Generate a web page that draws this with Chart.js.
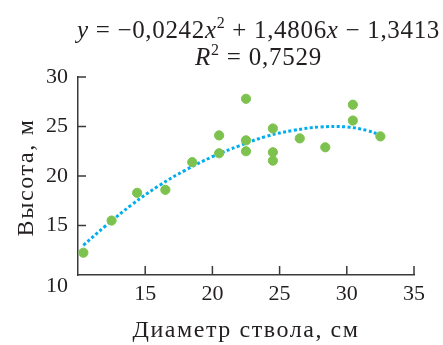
<!DOCTYPE html>
<html>
<head>
<meta charset="utf-8">
<script src="https://cdn.jsdelivr.net/npm/chart.js@4.4.1/dist/chart.umd.min.js"></script>
<style>
    html, body { margin: 0; padding: 0; background: #fff; }
</style>
</head>
<body>
<canvas id="chart" width="443" height="345"></canvas>
<script>
// measured trunk diameter (cm) and tree height (m)
const diameters = [10.4, 12.5, 14.4, 16.5, 18.5, 20.5, 20.5, 22.5, 22.5, 22.5, 24.5, 24.5, 24.5, 26.5, 28.4, 30.45, 30.45, 32.5];
const heights = [12.25, 15.5, 18.3, 18.6, 21.4, 24.1, 22.3, 27.8, 23.6, 22.5, 24.8, 22.4, 21.55, 23.8, 22.9, 27.2, 25.6, 24.0];

// dotted trend curve
const trendX = [10.4, 12, 14, 16, 18, 20, 22, 24, 26, 28, 30, 31.5, 32.4];
const trendY = [13.0, 14.9, 17.1, 19.0, 20.6, 21.95, 23.05, 24.0, 24.6, 24.95, 24.95, 24.6, 24.2];

const xTicks = [10, 15, 20, 25, 30, 35];
const yTicks = [10, 15, 20, 25, 30];

const xTitle = 'Диаметр ствола, см';
const yTitle = 'Высота, м';

const equationLine = [
    { t: 'y', i: true },
    { t: ' = −0,0242' },
    { t: 'x', i: true },
    { t: '2', sup: true },
    { t: ' + 1,4806' },
    { t: 'x', i: true },
    { t: ' − 1,3413' },
];
const r2Line = [
    { t: 'R', i: true },
    { t: '2', sup: true },
    { t: ' = 0,7529' },
];

const textColor = '#231f20';
const axisColor = '#3a3a3a';
const serif = '"Liberation Serif", "Times New Roman", serif';

function segFont(seg, size) {
    const s = seg.sup ? Math.round(size * 0.65) : size;
    return `${seg.i ? 'italic ' : ''}${s}px ${serif}`;
}

// draws mixed italic/superscript text, eased out by letter spacing to a given width
function drawRich(ctx, segs, cx, y, size, width) {
    let natural = 0;
    let chars = 0;
    ctx.letterSpacing = '0px';
    segs.forEach((seg) => {
        ctx.font = segFont(seg, size);
        seg.w = ctx.measureText(seg.t).width;
        natural += seg.w;
        chars += seg.t.length;
    });
    const ls = Math.max(0, (width - natural) / chars);
    let x = cx - (natural + ls * chars) / 2;
    segs.forEach((seg) => {
        ctx.font = segFont(seg, size);
        ctx.letterSpacing = `${ls}px`;
        ctx.fillText(seg.t, x, seg.sup ? y - size * 0.4 : y);
        x += seg.w + ls * seg.t.length;
    });
    ctx.letterSpacing = '0px';
}

const extras = {
    id: 'extras',
    afterDraw(chart) {
        const { ctx, scales } = chart;
        const xs = scales.x;
        const ys = scales.y;
        ctx.save();

        // inward tick marks
        ctx.strokeStyle = axisColor;
        ctx.lineWidth = 1.5;
        ctx.beginPath();
        yTicks.filter((v) => v !== 10).forEach((v) => {
            const py = ys.getPixelForValue(v);
            ctx.moveTo(xs.left, py);
            ctx.lineTo(xs.left + 8, py);
        });
        xTicks.filter((v) => v !== 10).forEach((v) => {
            const px = xs.getPixelForValue(v);
            ctx.moveTo(px, ys.bottom);
            ctx.lineTo(px, ys.bottom - 9);
        });
        ctx.stroke();

        // the "10" of the y axis sits a little below the corner
        ctx.fillStyle = textColor;
        ctx.font = `22px ${serif}`;
        ctx.textAlign = 'right';
        ctx.textBaseline = 'middle';
        ctx.fillText('10', ys.right - 10, ys.getPixelForValue(10) + 11);

        ctx.textAlign = 'left';
        ctx.textBaseline = 'alphabetic';

        // regression equation
        drawRich(ctx, equationLine, 258.5, 38, 25, 363);
        drawRich(ctx, r2Line, 258.5, 65, 25, 127);

        // axis titles
        drawRich(ctx, [{ t: xTitle }], (xs.left + xs.right) / 2, 337, 24, 227);
        ctx.translate(33, 177.5);
        ctx.rotate(-Math.PI / 2);
        drawRich(ctx, [{ t: yTitle }], 0, 0, 24, 118);
        ctx.restore();
    },
};

new Chart(document.getElementById('chart'), {
    type: 'scatter',
    data: {
        datasets: [
            {
                label: 'Высота',
                data: diameters.map((d, i) => ({ x: d, y: heights[i] })),
                backgroundColor: '#7dc24e',
                borderColor: '#7dc24e',
                pointRadius: 4.6,
                pointHoverRadius: 4.6,
                clip: false,
                order: 1,
            },
            {
                label: 'Тренд',
                type: 'line',
                data: trendX.map((d, i) => ({ x: d, y: trendY[i] })),
                borderColor: '#00aeef',
                borderWidth: 3,
                borderDash: [3, 2.4],
                pointRadius: 0,
                tension: 0.4,
                fill: false,
                clip: false,
                order: 2,
            },
        ],
    },
    options: {
        responsive: false,
        animation: false,
        events: [],
        layout: {
            padding: { top: 77, right: 29, left: 0, bottom: 0 },
        },
        plugins: {
            legend: { display: false },
            tooltip: { enabled: false },
        },
        scales: {
            x: {
                type: 'linear',
                min: 10,
                max: 35,
                afterBuildTicks(scale) {
                    scale.ticks = xTicks.map((v) => ({ value: v }));
                },
                afterFit(scale) {
                    scale.height = 70;
                },
                ticks: {
                    color: textColor,
                    font: { family: serif, size: 22 },
                    padding: 6,
                    maxRotation: 0,
                    callback: (v) => (v === 10 ? '' : String(v)),
                },
                grid: { drawOnChartArea: false, drawTicks: false },
                border: { color: axisColor, width: 1.5 },
            },
            y: {
                type: 'linear',
                min: 10,
                max: 30,
                afterBuildTicks(scale) {
                    scale.ticks = yTicks.map((v) => ({ value: v }));
                },
                afterFit(scale) {
                    scale.width = 78;
                },
                ticks: {
                    color: textColor,
                    font: { family: serif, size: 22 },
                    padding: 10,
                    callback: (v) => (v === 10 ? '' : String(v)),
                },
                grid: { drawOnChartArea: false, drawTicks: false },
                border: { color: axisColor, width: 1.5 },
            },
        },
    },
    plugins: [extras],
});
</script>
</body>
</html>
